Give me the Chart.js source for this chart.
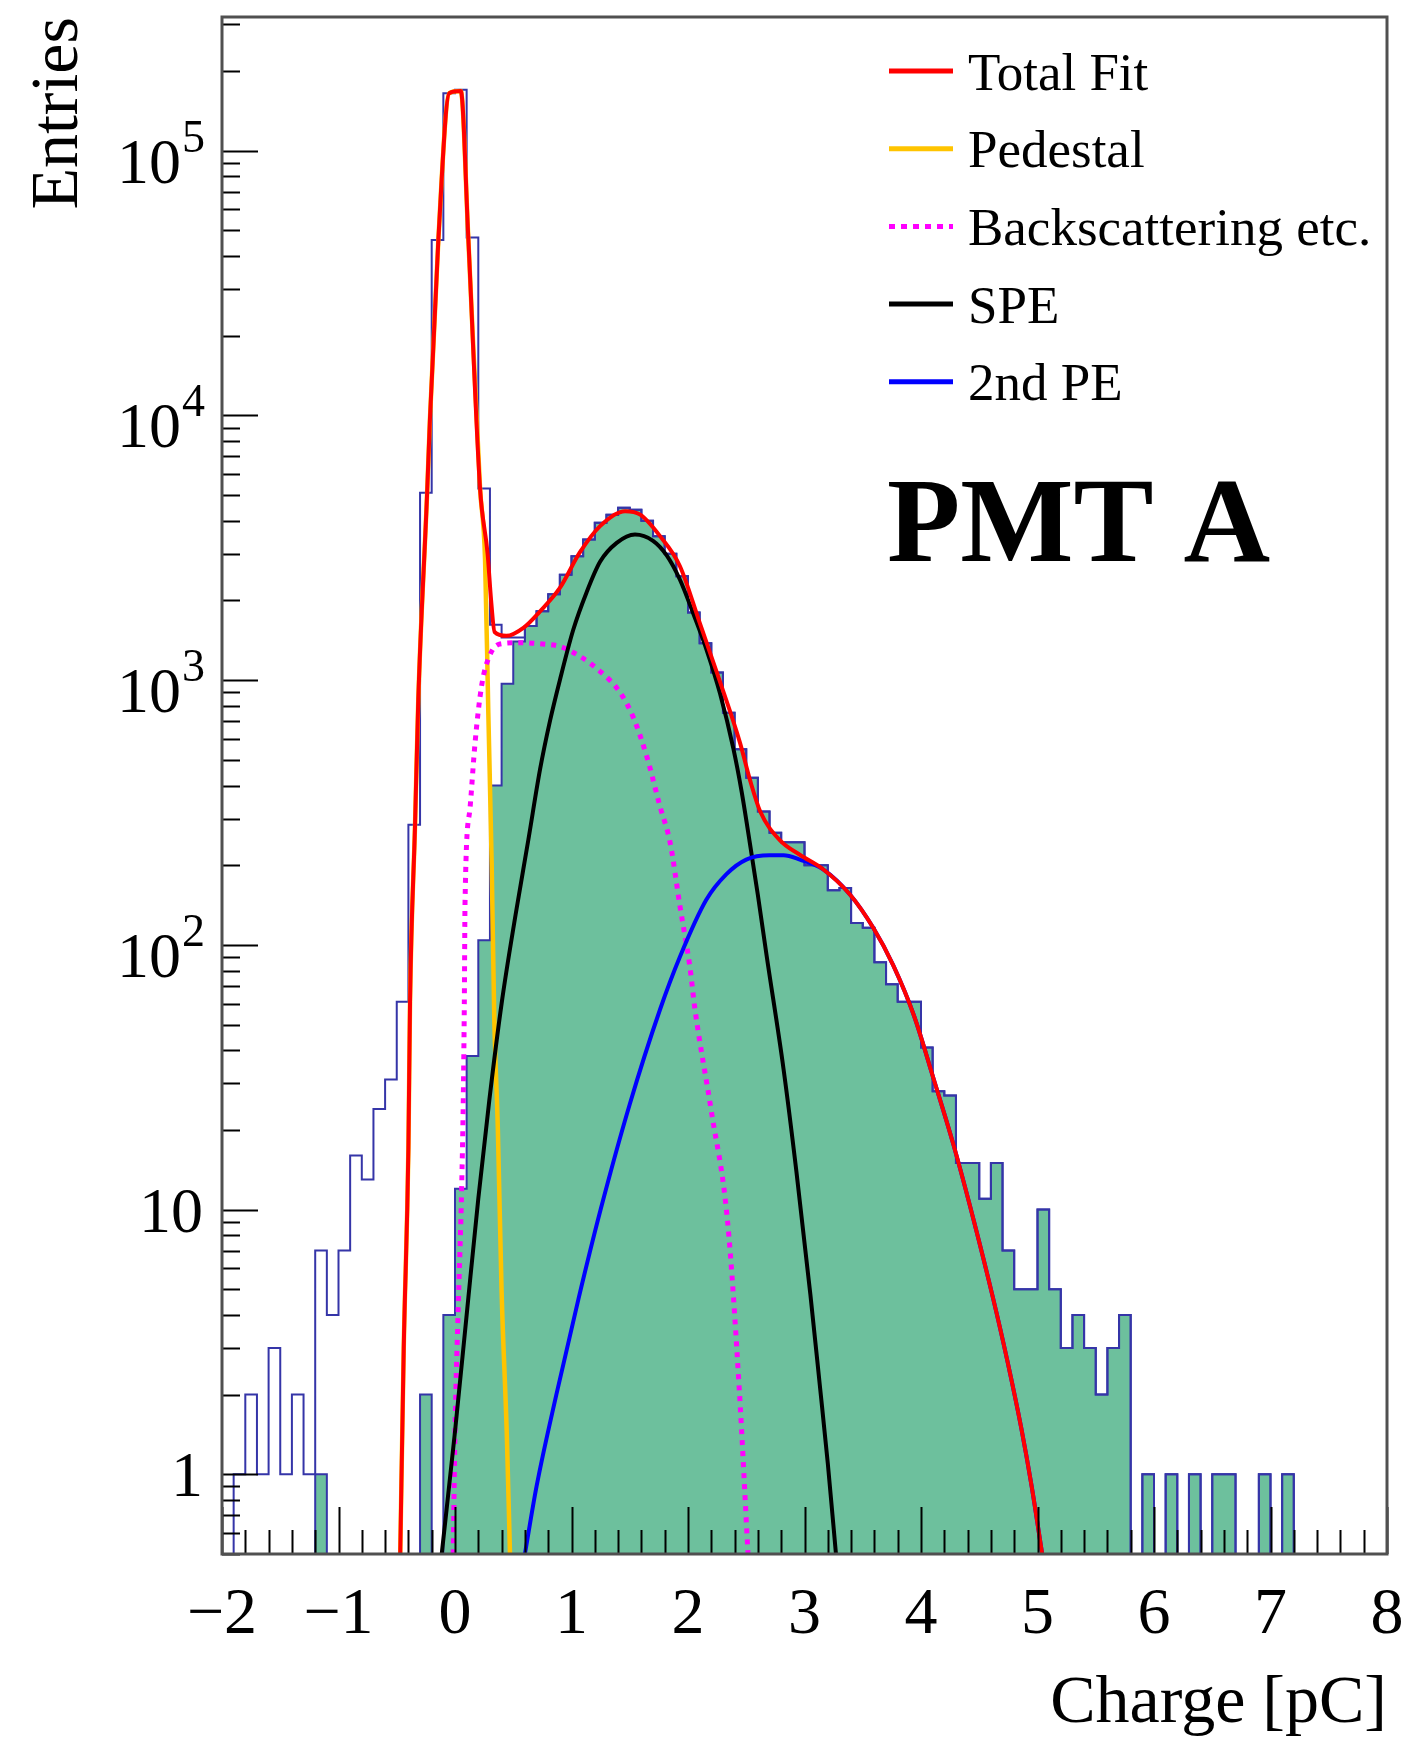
<!DOCTYPE html>
<html>
<head>
<meta charset="utf-8">
<script src="https://cdn.jsdelivr.net/npm/chart.js@4.4.1/dist/chart.umd.min.js"></script>
<style>
html, body { margin: 0; padding: 0; background: #ffffff; }
canvas { display: block; }
</style>
</head>
<body>
<canvas id="chart" width="1404" height="1743"></canvas>
<script>
// ---------------- data ----------------
const BIN_LO = -2.0;   // low edge of first bin [pC]
const BIN_W = 0.1;     // bin width [pC]

// all events (hollow blue histogram), bins -2.0 ... 7.9
const allCounts = [
  0, 1, 2, 1, 3, 1, 2, 1, 7, 4,
  7, 16, 13, 24, 31, 61, 284, 5100, 46000, 165000,
  170000, 47000, 5300, 1620, 1450, 1450, 1600, 1820, 2110, 2500,
  2940, 3400, 3930, 4220, 4480, 4400, 4000, 3500, 3000, 2470,
  1800, 1380, 1070, 753, 548, 428, 319, 265, 244, 244,
  200, 200, 161, 164, 121, 116, 86, 71, 61, 61,
  41, 28, 27, 15, 15, 11, 15, 7, 5, 5,
  10, 5, 3, 4, 3, 2, 3, 4, 0, 1,
  0, 1, 0, 1, 0, 1, 1, 0, 0, 1,
  0, 1, 0, 0, 0, 0, 0, 0, 0, 0
];

// selected events (green filled histogram)
const selCounts = [
  0, 0, 0, 0, 0, 0, 0, 0, 1, 0,
  0, 0, 0, 0, 0, 0, 0, 2, 0, 4,
  12, 38, 104, 400, 970, 1400, 1600, 1820, 2110, 2500,
  2940, 3400, 3930, 4220, 4480, 4400, 4000, 3500, 3000, 2470,
  1800, 1380, 1070, 753, 548, 428, 319, 265, 244, 244,
  200, 200, 161, 164, 121, 116, 86, 71, 61, 61,
  41, 28, 27, 15, 15, 11, 15, 7, 5, 5,
  10, 5, 3, 4, 3, 2, 3, 4, 0, 1,
  0, 1, 0, 1, 0, 1, 1, 0, 0, 1,
  0, 1, 0, 0, 0, 0, 0, 0, 0, 0
];

// fit curves: charge [pC] and value [entries]
const totalFitQ = [-0.47, -0.44, -0.40, -0.386, -0.343, -0.315, -0.24, -0.215, -0.143, -0.05,
  0.05, 0.114, 0.215, 0.28, 0.31, 0.34, 0.44, 0.59, 0.73, 0.90,
  1.07, 1.245, 1.46, 1.59, 1.76, 1.93, 2.10, 2.27, 2.446, 2.53,
  2.62, 2.79, 2.96, 3.16, 3.39, 3.59, 3.76, 3.94, 4.11, 4.28,
  4.45, 4.62, 4.74, 4.86, 4.95, 5.04];
const totalFitN = [0.5, 3, 17, 61, 284, 847, 5000, 9700, 46000, 165000,
  168000, 47000, 5300, 3000, 2000, 1520, 1470, 1580, 1820, 2230,
  3030, 3820, 4350, 4220, 3500, 2700, 1650, 1000, 581, 423,
  319, 248, 219, 193, 155, 116, 84, 54, 31, 17.5,
  9.2, 4.6, 2.7, 1.5, 0.9, 0.5];

const pedestalQ = [-0.47, -0.44, -0.40, -0.386, -0.343, -0.315, -0.24, -0.215, -0.143, -0.05,
  0.05, 0.114, 0.215, 0.258, 0.286, 0.315, 0.337, 0.368, 0.40, 0.444, 0.472];
const pedestalN = [0.5, 3, 17, 61, 284, 847, 5000, 9700, 46000, 165000,
  168000, 47000, 5300, 2860, 754, 200, 53, 20, 4.9, 1.45, 0.5];

const backscatterQ = [-0.015, 0.0, 0.03, 0.057, 0.071, 0.08, 0.086, 0.129, 0.172, 0.229,
  0.30, 0.386, 0.55, 0.75, 0.90, 1.073, 1.245, 1.416, 1.53, 1.646,
  1.76, 1.846, 1.931, 2.017, 2.06, 2.20, 2.34, 2.44, 2.515];
const backscatterN = [0.5, 1.45, 4.6, 12, 26, 60, 143, 329, 579, 955,
  1245, 1370, 1385, 1370, 1340, 1230, 1080, 900, 724, 515,
  333, 244, 140, 82, 57, 23.6, 9.0, 2.1, 0.5];

const speQ = [-0.114, 0.0, 0.1, 0.2, 0.295, 0.40, 0.52, 0.63, 0.73, 0.815,
  0.90, 1.015, 1.13, 1.245, 1.388, 1.545, 1.70, 1.817, 1.93, 2.046,
  2.16, 2.275, 2.39, 2.46, 2.53, 2.60, 2.675, 2.82, 2.93, 3.05,
  3.13, 3.20, 3.27];
const speN = [0.5, 1.45, 4, 11, 26, 60, 130, 250, 460, 700,
  1000, 1550, 2150, 2800, 3300, 3550, 3360, 2960, 2400, 1780,
  1300, 890, 550, 380, 244, 154, 91, 34, 14, 4.8,
  2.2, 1.1, 0.5];

const pe2Q = [0.60, 0.70, 0.87, 1.06, 1.25, 1.50, 1.76, 1.93, 2.157, 2.33,
  2.50, 2.70, 2.82, 2.96, 3.16, 3.39, 3.59, 3.76, 3.94, 4.11,
  4.28, 4.45, 4.62, 4.74, 4.86, 4.95, 5.04];
const pe2N = [0.5, 0.9, 2.0, 4.6, 10, 25, 57, 90, 148, 185,
  210, 218, 218, 210, 193, 155, 116, 84, 54, 31,
  17.5, 9.2, 4.6, 2.7, 1.5, 0.9, 0.5];

// axes
const X_MIN = -2, X_MAX = 8;
const Y_MIN = 0.5, Y_MAX = 3.2e5;
const xTickValues = [-2, -1, 0, 1, 2, 3, 4, 5, 6, 7, 8];
const xTickLabels = ['\u22122', '\u22121', '0', '1', '2', '3', '4', '5', '6', '7', '8'];
const yDecades = [1, 10, 100, 1000, 10000, 100000];
const yDecadeBase = ['1', '10', '10', '10', '10', '10'];
const yDecadeExp = ['', '', '2', '3', '4', '5'];

const legendLabels = ['Total Fit', 'Pedestal', 'Backscattering etc.', 'SPE', '2nd PE'];
const panelLabel = 'PMT A';

// ---------------- styles ----------------
const SERIF = "'Liberation Serif', 'Times New Roman', Times, serif";
const C_RED = '#ff0000', C_PED = '#ffc400', C_MAG = '#ff00ff', C_BLK = '#000000', C_BLUE = '#0000ff';
const C_HIST = '#3535a8', C_FILL = '#6dc09d';
const legendStyles = [
  { color: C_RED, dash: [] },
  { color: C_PED, dash: [] },
  { color: C_MAG, dash: [6, 6] },
  { color: C_BLK, dash: [] },
  { color: C_BLUE, dash: [] }
];

// ---------------- helpers ----------------
function histPoints(counts) {
  const pts = [];
  counts.forEach((c, i) => {
    const v = c > 0 ? c : Y_MIN;
    pts.push({ x: BIN_LO + i * BIN_W, y: v });
    pts.push({ x: BIN_LO + (i + 1) * BIN_W, y: v });
  });
  return pts;
}
function curvePoints(qs, ns) {
  return qs.map((q, i) => ({ x: q, y: ns[i] }));
}
function curve(label, qs, ns, color, width, order, dash) {
  return {
    label, data: curvePoints(qs, ns), borderColor: color, borderWidth: width,
    borderDash: dash || [], pointRadius: 0, fill: false, order,
    cubicInterpolationMode: 'monotone', borderCapStyle: 'butt', borderJoinStyle: 'round'
  };
}

// ---------------- plugins (frame, inside ticks, y labels, legend) ----------------
const rootDecor = {
  id: 'rootDecor',
  afterDatasetsDraw(chart) {
    const { ctx, chartArea: a, scales: { x, y } } = chart;
    ctx.save();
    ctx.strokeStyle = '#000';
    ctx.lineWidth = 2;
    ctx.beginPath();
    const nx = Math.round((X_MAX - X_MIN) / 0.2);
    for (let i = 0; i <= nx; i++) {
      const v = X_MIN + i * 0.2;
      const major = Math.abs(v - Math.round(v)) < 1e-6;
      const px = Math.round(x.getPixelForValue(v)) + 0.5;
      ctx.moveTo(px, a.bottom);
      ctx.lineTo(px, a.bottom - (major ? 47 : 24));
    }
    for (let e = -1; e <= 5; e++) {
      for (let m = 1; m <= 9; m++) {
        const v = m * Math.pow(10, e);
        if (v < Y_MIN || v > Y_MAX) continue;
        const py = Math.round(y.getPixelForValue(v)) + 0.5;
        ctx.moveTo(a.left, py);
        ctx.lineTo(a.left + (m === 1 ? 36 : 18), py);
      }
    }
    ctx.stroke();
    ctx.strokeStyle = '#505050';
    ctx.lineWidth = 3;
    ctx.strokeRect(a.left, a.top, a.right - a.left, a.bottom - a.top);
    ctx.restore();
  },
  afterDraw(chart) {
    const { ctx, chartArea: a, scales: { y } } = chart;
    ctx.save();
    ctx.fillStyle = '#000';
    ctx.textBaseline = 'alphabetic';
    ctx.textAlign = 'right';
    const right = a.left - 17;
    yDecades.forEach((d, i) => {
      const py = y.getPixelForValue(d);
      const exp = yDecadeExp[i];
      if (!exp) {
        ctx.font = '64px ' + SERIF;
        ctx.fillText(yDecadeBase[i], right - 2, py + 22);
      } else {
        ctx.font = '46px ' + SERIF;
        ctx.fillText(exp, right, py + 1);
        const ew = ctx.measureText(exp).width;
        ctx.font = '64px ' + SERIF;
        ctx.fillText(yDecadeBase[i], right - ew - 1, py + 32);
      }
    });
    ctx.textAlign = 'left';
    ctx.font = '53px ' + SERIF;
    legendLabels.forEach((lab, i) => {
      const rowY = 71 + i * 77.7;
      const st = legendStyles[i];
      ctx.strokeStyle = st.color;
      ctx.lineWidth = 5;
      ctx.setLineDash(st.dash);
      ctx.beginPath();
      ctx.moveTo(889, rowY);
      ctx.lineTo(953, rowY);
      ctx.stroke();
      ctx.setLineDash([]);
      ctx.fillStyle = '#000';
      ctx.fillText(lab, 968, rowY + 18.5);
    });
    ctx.font = 'bold 120px ' + SERIF;
    ctx.fillText(panelLabel, 887, 561);
    ctx.restore();
  }
};

// ---------------- chart ----------------
const ctx = document.getElementById('chart').getContext('2d');
new Chart(ctx, {
  type: 'line',
  data: {
    datasets: [
      curve('Total Fit', totalFitQ, totalFitN, C_RED, 4, 0),
      curve('2nd PE', pe2Q, pe2N, C_BLUE, 4, 1),
      curve('SPE', speQ, speN, C_BLK, 4, 2),
      curve('Backscattering etc.', backscatterQ, backscatterN, C_MAG, 5, 3, [5, 6]),
      curve('Pedestal', pedestalQ, pedestalN, C_PED, 4.5, 4),
      {
        label: 'All', data: histPoints(allCounts), borderColor: C_HIST, borderWidth: 2,
        pointRadius: 0, fill: false, tension: 0, order: 5
      },
      {
        label: 'Selected', data: histPoints(selCounts), borderColor: C_HIST, borderWidth: 2,
        backgroundColor: C_FILL, pointRadius: 0, fill: 'start', tension: 0, order: 6
      }
    ]
  },
  options: {
    responsive: false,
    devicePixelRatio: 1,
    animation: false,
    events: [],
    layout: { padding: { left: 0, right: 17, top: 17, bottom: 0 } },
    plugins: { legend: { display: false }, tooltip: { enabled: false }, title: { display: false } },
    scales: {
      x: {
        type: 'linear', position: 'bottom', min: X_MIN, max: X_MAX,
        afterBuildTicks: (s) => { s.ticks = xTickValues.map(v => ({ value: v })); },
        afterFit: (s) => { s.height = 189; },
        grid: { display: false, drawTicks: false },
        border: { display: false },
        ticks: {
          autoSkip: false, maxRotation: 0, minRotation: 0, padding: 0, color: '#000',
          font: { family: SERIF, size: 66, lineHeight: 1.88 },
          callback: (v, i) => xTickLabels[i]
        },
        title: {
          display: true, text: 'Charge [pC]', align: 'end', color: '#000',
          font: { family: SERIF, size: 68, lineHeight: 1 }, padding: { top: 0, bottom: 5 }
        }
      },
      y: {
        type: 'logarithmic', position: 'left', min: Y_MIN, max: Y_MAX,
        afterFit: (s) => { s.width = 222; },
        grid: { display: false, drawTicks: false },
        border: { display: false },
        ticks: { display: false },
        title: {
          display: true, text: 'Entries', align: 'end', color: '#000',
          font: { family: SERIF, size: 68, lineHeight: 1 }, padding: { top: 25, bottom: 0 }
        }
      }
    }
  },
  plugins: [rootDecor]
});
</script>
</body>
</html>
